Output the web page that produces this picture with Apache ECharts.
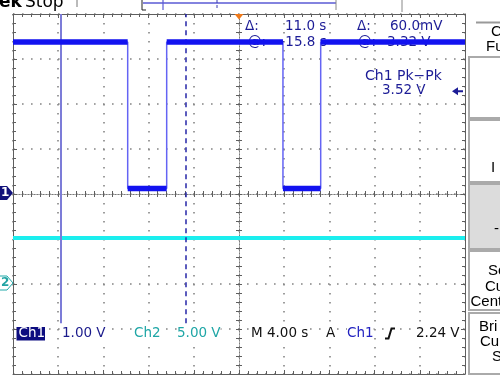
<!DOCTYPE html>
<html><head><meta charset="utf-8">
<script src="https://cdn.jsdelivr.net/npm/echarts@6/dist/echarts.min.js"></script>
<style>html,body{margin:0;padding:0;background:#fff}#c{width:500px;height:380px}</style>
</head><body><div id="c"></div>
<script>
// ---- data ----
const timeRange = [-20, 20];        // s, M 4.00 s/div, 10 div
const timeStep = 4;
const ch1Range = [-4, 4];           // V, 1.00 V/div, ground at centre
const ch1Step = 1;
const ch2Range = [-10, 30];         // V, 5.00 V/div, ground 2 div below centre
const ch2Step = 5;
const ch1EdgeTimes = [-9.85, -6.4, 3.89, 7.23];   // fall, rise, fall, rise (s)
const ch1High = 3.38;               // V
const ch1Low = 0.12;                // V
const ch2Level = 5.1;               // V
const cursorTimes = [-15.75, -4.75]; // s
const cursorBottom = -2.87;         // V (cursor lines end above readout row)
const triggerTime = 0;              // s
const triggerLevel = 2.24;          // V
const topReadouts = [['Δ:', '11.0 s', 'Δ:', '60.0mV'], ['@:', '−15.8 s', '@:', '3.32 V']];
const measLabel = ['Ch1 Pk−Pk', '3.52 V'];
const bottomReadouts = ['Ch1', '1.00 V', 'Ch2', '5.00 V', 'M 4.00 s', 'A', 'Ch1', '2.24 V'];
const menuTexts = [['C', 'Fu'], ['I'], ['-'], ['Se', 'Cu', 'Cent'], ['Bri', 'Cu', 'S']];

// ---- build waveforms ----
const ch1Wave = [[timeRange[0], ch1High]];
const ch1Band = [[timeRange[0], ch1High]];
let lvl = ch1High;
ch1EdgeTimes.forEach(t => {
  ch1Wave.push([t, lvl]);
  ch1Band.push([t, lvl]);
  ch1Band.push([t, null]);
  lvl = (lvl === ch1High) ? ch1Low : ch1High;
  ch1Wave.push([t, lvl]);
  ch1Band.push([t, lvl]);
});
ch1Wave.push([timeRange[1], lvl]);
ch1Band.push([timeRange[1], lvl]);
const ch2Wave = [[timeRange[0], ch2Level], [timeRange[1], ch2Level]];

const BORDER = '#5e5e5e';
const GRIDDOT = '#858585';
function xAx(extra) {
  return Object.assign({
    type: 'value', min: timeRange[0], max: timeRange[1], interval: timeStep,
    axisLabel: { show: false },
    axisLine: { onZero: false, lineStyle: { color: BORDER, width: 1 } },
    axisTick: { show: true, inside: true, length: 4, lineStyle: { color: BORDER } },
    minorTick: { show: true, splitNumber: 5, length: 3, lineStyle: { color: BORDER } },
    splitLine: { show: false }
  }, extra);
}
function yAx(extra) {
  return Object.assign({
    type: 'value', min: ch1Range[0], max: ch1Range[1], interval: ch1Step,
    axisLabel: { show: false },
    axisLine: { onZero: false, lineStyle: { color: BORDER, width: 1 } },
    axisTick: { show: true, inside: true, length: 4, lineStyle: { color: BORDER } },
    minorTick: { show: true, splitNumber: 5, length: 3, lineStyle: { color: BORDER } },
    splitLine: { show: false }
  }, extra);
}
const centreLine = { lineStyle: { color: '#7a7a7a', width: 1, type: [1, 2] } };

const chart = echarts.init(document.getElementById('c'), null, { renderer: 'canvas' });
chart.setOption({
  animation: false,
  backgroundColor: '#ffffff',
  grid: { left: 13, top: 14, width: 452, height: 360, show: false },
  xAxis: [
    xAx({ position: 'bottom', splitLine: { show: true, lineStyle: { color: GRIDDOT, width: 1.6, type: [1.6, 7.4] } } }),
    xAx({ position: 'top' }),
    xAx({ position: 'bottom', axisLine: Object.assign({ onZero: true, onZeroAxisIndex: 0 }, centreLine), axisTick: { show: true, inside: true, length: 3, lineStyle: { color: BORDER } }, minorTick: { show: true, splitNumber: 5, length: 3, lineStyle: { color: BORDER } } }),
    xAx({ position: 'bottom', axisLine: Object.assign({ onZero: true, onZeroAxisIndex: 0 }, centreLine), axisTick: { show: true, inside: false, length: 3, lineStyle: { color: BORDER } }, minorTick: { show: true, splitNumber: 5, length: 3, lineStyle: { color: BORDER } } })
  ],
  yAxis: [
    yAx({ position: 'left', splitLine: { show: true, lineStyle: { color: GRIDDOT, width: 1.6, type: [1.6, 7.4] } } }),
    yAx({ position: 'right' }),
    yAx({ position: 'left', axisLine: Object.assign({ onZero: true, onZeroAxisIndex: 0 }, centreLine), axisTick: { show: true, inside: true, length: 3, lineStyle: { color: BORDER } } }),
    yAx({ position: 'left', axisLine: Object.assign({ onZero: true, onZeroAxisIndex: 0 }, centreLine), axisTick: { show: true, inside: false, length: 3, lineStyle: { color: BORDER } } }),
    { type: 'value', min: ch2Range[0], max: ch2Range[1], interval: ch2Step, show: false }
  ],
  series: [
    {
      name: 'cursors', type: 'line', xAxisIndex: 0, yAxisIndex: 0, data: [], silent: true, z: 2,
      markLine: {
        symbol: 'none', silent: true, label: { show: false }, animation: false,
        data: [
          [{ coord: [cursorTimes[0], cursorBottom], lineStyle: { color: '#7c7cd8', width: 2, type: 'solid' } }, { coord: [cursorTimes[0], ch1Range[1]] }],
          [{ coord: [cursorTimes[1], cursorBottom], lineStyle: { color: '#2626a8', width: 1.5, type: [5, 4] } }, { coord: [cursorTimes[1], ch1Range[1]] }]
        ]
      }
    },
    { name: 'Ch2', type: 'line', xAxisIndex: 0, yAxisIndex: 4, data: ch2Wave, showSymbol: false, silent: true, z: 3,
      lineStyle: { color: '#1beeee', width: 4 } },
    { name: 'Ch1 edges', type: 'line', xAxisIndex: 0, yAxisIndex: 0, data: ch1Wave, showSymbol: false, silent: true, z: 4,
      lineStyle: { color: '#6464f4', width: 1.5 } },
    { name: 'Ch1', type: 'line', xAxisIndex: 0, yAxisIndex: 0, data: ch1Band, showSymbol: false, silent: true, z: 5, connectNulls: false,
      lineStyle: { color: '#1212f0', width: 5.5 } }
  ]
});

// ---- annotations positioned via the axes ----
const px = v => chart.convertToPixel({ xAxisIndex: 0 }, v);
const py1 = v => chart.convertToPixel({ yAxisIndex: 0 }, v);
const py2 = v => chart.convertToPixel({ yAxisIndex: 4 }, v);
const NAVY = '#1c1c96';
const F = '13.5px "DejaVu Sans"';
function txt(text, x, y, fill, font, extra) {
  return { type: 'text', z: 10, style: Object.assign({ text, x, y, fill, font: font || F, verticalAlign: 'middle', align: 'left' }, extra || {}) };
}
const g = [];
// top-left
g.push(txt('ek', -1, 3, '#000', 'bold 17px "DejaVu Sans"'));
g.push(txt('Stop', 25, 3, '#000', '17px "DejaVu Sans"'));
g.push({ type: 'line', shape: { x1: 77, y1: 0, x2: 77, y2: 7 }, style: { stroke: '#777', lineWidth: 1 } });
// record view box
g.push({ type: 'line', shape: { x1: 143, y1: 3, x2: 336, y2: 3 }, style: { stroke: '#5a5ad4', lineWidth: 1.5 } });
g.push({ type: 'polyline', shape: { points: [[142, 0], [142, 10], [146, 10]] }, style: { stroke: '#222', lineWidth: 1, fill: null } });
g.push({ type: 'line', shape: { x1: 336, y1: 0, x2: 336, y2: 10 }, style: { stroke: '#888', lineWidth: 1 } });
g.push({ type: 'line', shape: { x1: 402, y1: 0, x2: 402, y2: 12 }, style: { stroke: '#888', lineWidth: 1 } });
g.push({ type: 'line', shape: { x1: 163, y1: 0, x2: 163, y2: 10 }, style: { stroke: '#5a5ad4', lineWidth: 1.2 } });
g.push({ type: 'line', shape: { x1: 217, y1: 0, x2: 217, y2: 10 }, style: { stroke: '#3a3ab0', lineWidth: 1, lineDash: [3, 2] } });
// trigger position marker
const tx = px(triggerTime);
g.push({ type: 'polygon', z: 10, shape: { points: [[tx - 4.5, 14], [tx + 4.5, 14], [tx, 19.5]] }, style: { fill: '#f07a1a' } });
// top readouts (behind traces)
const topX = [[245, 285, 357, 390], [248, 274, 358, 387]];
const topY = [26, 42];
topReadouts.forEach((row, r) => row.forEach((s, i) => {
  const t = txt(s, topX[r][i], topY[r], NAVY); t.z = 1; g.push(t);
}));
g.push(txt(measLabel[0], 365, 76, NAVY, '14px "DejaVu Sans"'));
g.push(txt(measLabel[1], 382, 90, NAVY, '13.5px "DejaVu Sans"'));
// trigger level arrow
const ay = py1(triggerLevel) - 2;
g.push({ type: 'polygon', z: 10, shape: { points: [[452, ay], [458, ay - 4], [458, ay - 1], [463, ay - 1], [463, ay + 1], [458, ay + 1], [458, ay + 4]] }, style: { fill: NAVY } });
// channel ground markers
const c1 = py1(0) - 1;
g.push({ type: 'polygon', z: 10, shape: { points: [[0, c1 - 7], [7, c1 - 7], [13, c1], [7, c1 + 7], [0, c1 + 7]] }, style: { fill: '#10107a' } });
g.push(txt('1', 1, c1, '#fff', 'bold 12px "DejaVu Sans"'));
const c2 = py2(0) - 1;
g.push({ type: 'polygon', z: 10, shape: { points: [[-1, c2 - 7], [7, c2 - 7], [13, c2], [7, c2 + 7], [-1, c2 + 7]] }, style: { fill: '#fff', stroke: '#22aaaa', lineWidth: 1 } });
g.push(txt('2', 1, c2, '#22a4a4', 'bold 12px "DejaVu Sans"'));
// bottom readout row
const by = 333.5;
g.push({ type: 'rect', z: 10, shape: { x: 16.5, y: 327, width: 28.5, height: 13.5 }, style: { fill: '#0d0d80' } });
g.push(txt(bottomReadouts[0], 18.5, by, '#fff'));
const bx = [null, 62, 134, 177, 251, 326, 347, null];
const bc = [null, '#1b1b8c', '#1fa6a6', '#1fa6a6', '#111', '#111', '#2222c0', '#111'];
for (let i = 1; i < 7; i++) g.push(txt(bottomReadouts[i], bx[i], by, bc[i], F, { backgroundColor: '#fff' }));
g.push({ type: 'polyline', z: 10, shape: { points: [[385, 338.5], [388.5, 338.5], [391.5, 328.5], [395, 328.5]] }, style: { stroke: '#111', lineWidth: 2, fill: null } });
g.push(txt(bottomReadouts[7], 416, by, '#111', F, { backgroundColor: '#fff' }));
// right menu panel
const MF = '15px "Liberation Sans"';
g.push({ type: 'line', shape: { x1: 476, y1: 22.5, x2: 500, y2: 22.5 }, style: { stroke: '#999', lineWidth: 2 } });
g.push(txt(menuTexts[0][0], 491, 32, '#000', MF));
g.push(txt(menuTexts[0][1], 486, 47, '#000', MF));
g.push({ type: 'rect', shape: { x: 469, y: 57, width: 40, height: 61 }, style: { fill: '#fff', stroke: '#aaa', lineWidth: 2 } });
g.push({ type: 'rect', shape: { x: 469, y: 120, width: 40, height: 62 }, style: { fill: '#fff', stroke: '#aaa', lineWidth: 2 } });
g.push(txt(menuTexts[1][0], 491, 168, '#000', MF));
g.push({ type: 'rect', shape: { x: 469, y: 184, width: 40, height: 65 }, style: { fill: '#dcdcdc', stroke: '#aaa', lineWidth: 2 } });
g.push(txt(menuTexts[2][0], 494, 229, '#000', MF));
g.push({ type: 'rect', shape: { x: 469, y: 251, width: 40, height: 59 }, style: { fill: '#fff', stroke: '#aaa', lineWidth: 2 } });
g.push(txt(menuTexts[3][0], 488, 271, '#000', MF));
g.push(txt(menuTexts[3][1], 485, 287, '#000', MF));
g.push(txt(menuTexts[3][2], 470.5, 302, '#000', MF));
g.push({ type: 'rect', shape: { x: 469, y: 313, width: 40, height: 61 }, style: { fill: '#fff', stroke: '#aaa', lineWidth: 2 } });
g.push(txt(menuTexts[4][0], 479, 327, '#000', MF));
g.push(txt(menuTexts[4][1], 480, 342, '#000', MF));
g.push(txt(menuTexts[4][2], 492, 357, '#000', MF));

chart.setOption({ graphic: g });
</script>
</body></html>
